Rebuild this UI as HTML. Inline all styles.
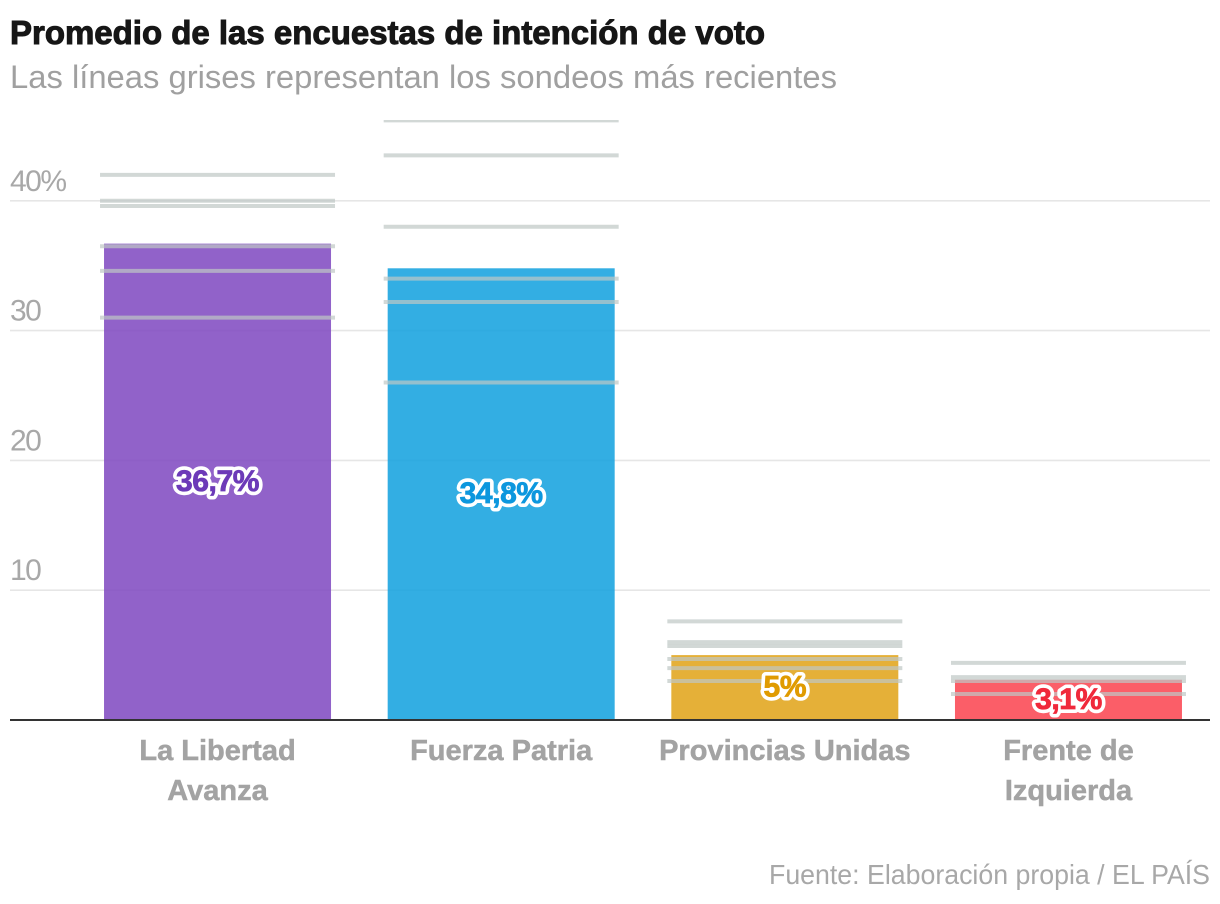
<!DOCTYPE html>
<html lang="es">
<head>
<meta charset="utf-8">
<title>Promedio de las encuestas de intención de voto</title>
<style>
html,body{margin:0;padding:0;background:#fff;width:1220px;height:904px;overflow:hidden}
svg{display:block;font-family:"Liberation Sans",sans-serif}
</style>
</head>
<body>
<svg id="chart" width="1220" height="904" viewBox="0 0 1220 904" xmlns="http://www.w3.org/2000/svg">
  <defs><clipPath id="plot-clip"><rect x="0" y="120" width="1220" height="610"/></clipPath></defs>
  <text x="10" y="44" font-size="33" font-weight="700" fill="#161616" stroke="#161616" stroke-width="1" textLength="755" lengthAdjust="spacingAndGlyphs">Promedio de las encuestas de intención de voto</text>
  <text x="10" y="88" font-size="32" fill="#a0a0a0" textLength="827" lengthAdjust="spacingAndGlyphs">Las líneas grises representan los sondeos más recientes</text>
  <g id="grid"></g>
  <g id="ticks"></g>
  <g id="bars"></g>
  <g id="polls" clip-path="url(#plot-clip)"></g>
  <line x1="10" x2="1210" y1="720" y2="720" stroke="#333" stroke-width="2"/>
  <g id="values"></g>
  <g id="cats"></g>
  <text x="1210" y="884" font-size="28" fill="#a8a8a8" text-anchor="end" textLength="441" lengthAdjust="spacingAndGlyphs">Fuente: Elaboración propia / EL PAÍS</text>
</svg>
<script>
const categories = [["La Libertad", "Avanza"], ["Fuerza Patria"], ["Provincias Unidas"], ["Frente de", "Izquierda"]];
const averages = [36.7, 34.8, 5, 3.1];
const valueLabels = ["36,7%", "34,8%", "5%", "3,1%"];
const pollsLLA = [42, 40, 39.6, 36.5, 34.6, 31];
const pollsFP = [46.2, 43.5, 38, 34, 32.2, 26];
const pollsPU = [7.6, 6, 5.7, 4.7, 4, 3];
const pollsFI = [4.4, 3.3, 3, 2];
const polls = [pollsLLA, pollsFP, pollsPU, pollsFI];
const yTicks = [10, 20, 30, 40];
const barColors = ["#7e47bf", "#0fa0de", "#e0a215", "#fa424d"];
const labelColors = ["#6c3ab8", "#0c97de", "#e09b00", "#f0293b"];

const SVG_NS = "http://www.w3.org/2000/svg";
const plotLeft = 75.7, plotRight = 1210.3, baseY = 720, pxPerUnit = 12.98;
const step = (plotRight - plotLeft) / categories.length;
const yScale = v => baseY - v * pxPerUnit;
const xCenter = i => plotLeft + step * (i + 0.5);

function make(parentId, tag, attrs, text) {
  const el = document.createElementNS(SVG_NS, tag);
  for (const k in attrs) el.setAttribute(k, attrs[k]);
  if (text !== undefined) el.textContent = text;
  document.getElementById(parentId).appendChild(el);
  return el;
}

yTicks.forEach(t => {
  const line = make("grid", "line", {x1: 10, x2: 1210, y1: yScale(t), y2: yScale(t), stroke: "#e6e6e6", "stroke-width": 1.6});
  
  
  const lab = make("ticks", "text", {x: 10, y: yScale(t) - 10, "font-size": 30, fill: "#a8a8a8", "letter-spacing": -1.5}, t === 40 ? t + "%" : String(t));
  
  
});

categories.forEach((cat, i) => {
  const cx = xCenter(i);
  const bar = make("bars", "rect", {x: cx - 113.5, y: yScale(averages[i]), width: 227, height: baseY - yScale(averages[i]), fill: barColors[i], opacity: 0.85});
  
  

  polls[i].forEach(p => {
    const pl = make("polls", "line", {x1: cx - 117.5, x2: cx + 117.5, y1: yScale(p), y2: yScale(p), stroke: "#bfc8c6", "stroke-width": 4, opacity: 0.7});
    
    
  });

  const halo = make("values", "text", {x: cx, y: yScale(averages[i] / 2) + 9, "font-size": 30, "font-weight": 700, "text-anchor": "middle", "letter-spacing": -0.4, fill: "#fff", stroke: "#fff", "stroke-width": 8, "stroke-linejoin": "round"}, valueLabels[i]);
  
  

  const val = make("values", "text", {x: cx, y: yScale(averages[i] / 2) + 9, "font-size": 30, "font-weight": 700, "text-anchor": "middle", "letter-spacing": -0.4, fill: labelColors[i], stroke: labelColors[i], "stroke-width": 0.8}, valueLabels[i]);
  
  

  cat.forEach((ln, j) => {
    const cl = make("cats", "text", {x: cx, y: 760 + j * 40, "font-size": 29, "font-weight": 700, "text-anchor": "middle", fill: "#a3a3a3", stroke: "#a3a3a3", "stroke-width": 0.5}, ln);
    
    
  });
});
</script>
</body>
</html>
